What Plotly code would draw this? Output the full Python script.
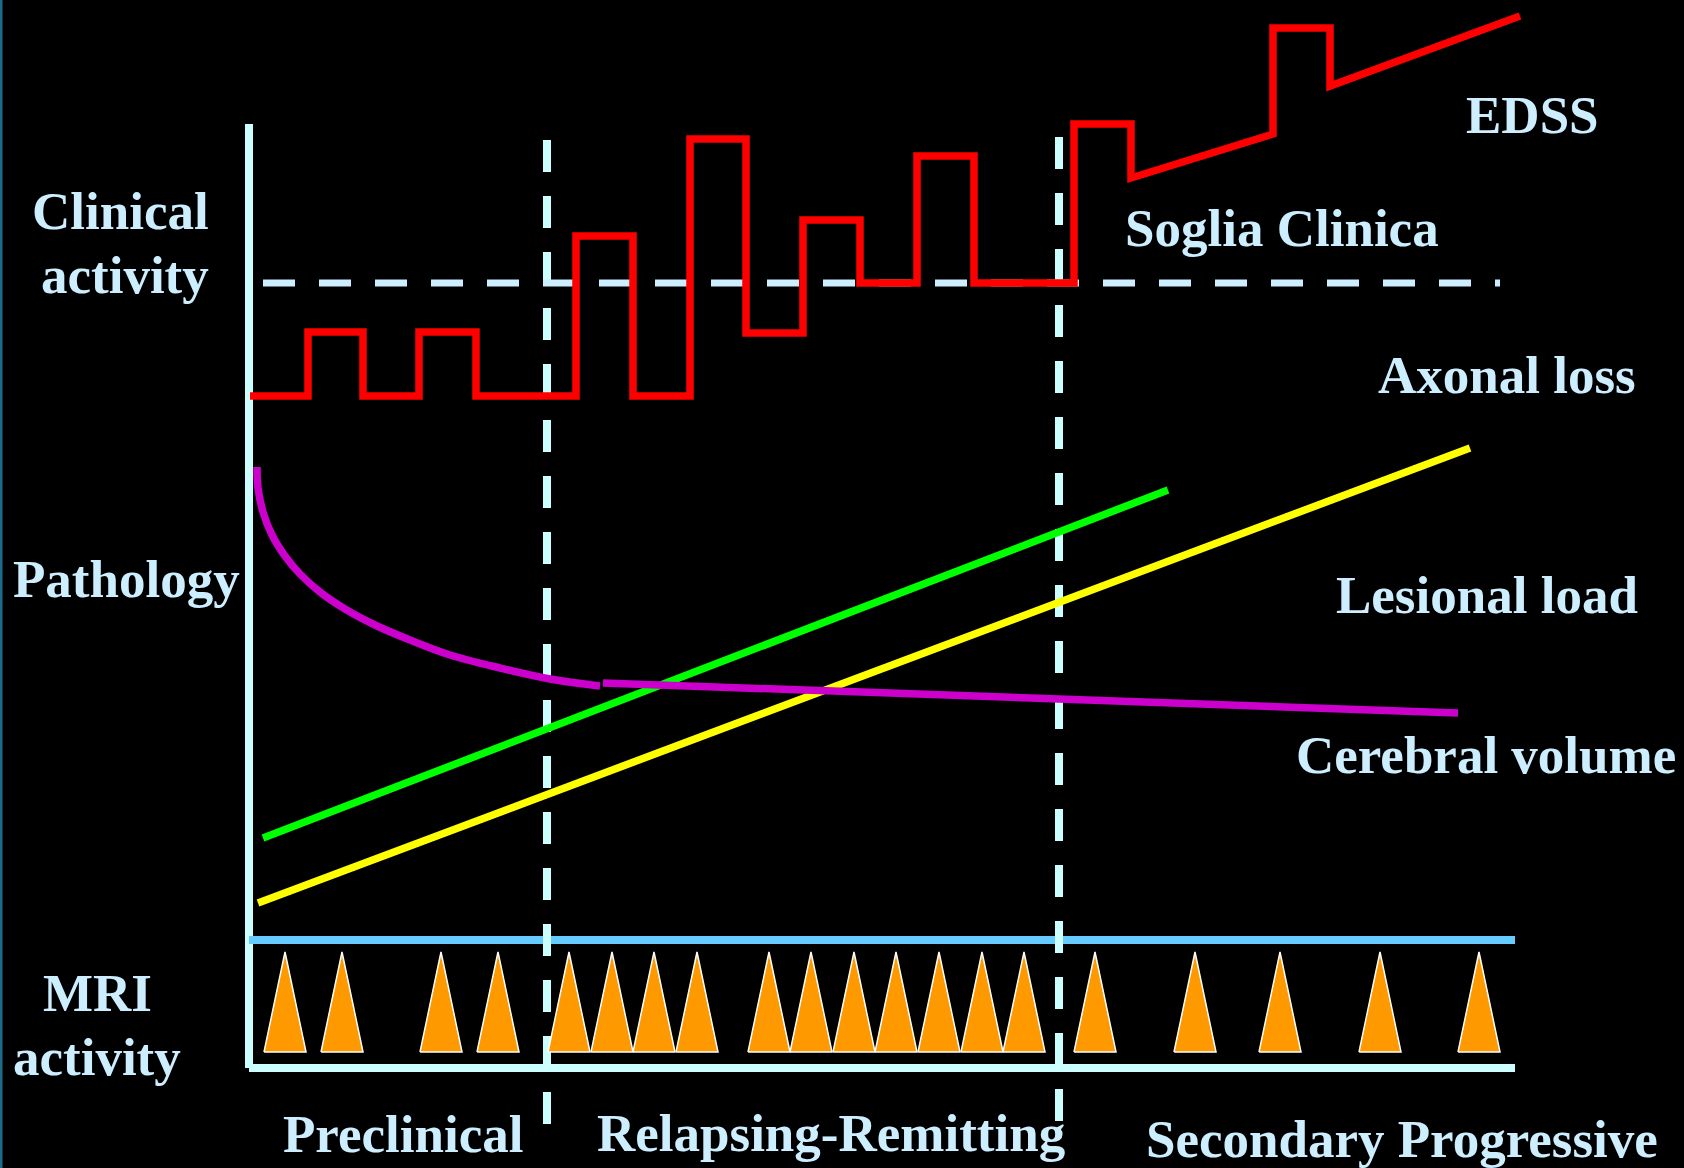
import plotly.graph_objects as go

# ---------------- data (chart units = picture pixels, y grows downward) ----------------
# EDSS / clinical activity (step line)
edss_x = [250, 308, 308, 363, 363, 419, 419, 476, 476, 576, 576, 633, 633, 690, 690,
          746, 746, 803, 803, 860, 860, 917, 917, 974, 974, 1074, 1074, 1131, 1131,
          1273, 1273, 1330, 1330, 1520]
edss_y = [396, 396, 332, 332, 396, 396, 332, 332, 396, 396, 236, 236, 396, 396, 139,
          139, 333, 333, 220, 220, 283, 283, 156, 156, 283, 283, 124, 124, 178,
          134, 28, 28, 86, 16]

# clinical threshold ("Soglia Clinica")
threshold_x = [263, 1500]
threshold_y = [283, 283]

# phase boundaries
phase_x = [547, 1059]
phase_top = [140, 137]
phase_bottom = [1124, 1121]

# pathology lines
axonal_x = [263, 1168]
axonal_y = [838, 490]
lesional_x = [258, 1470]
lesional_y = [903, 448]
volume_curve_x = [257, 258, 263, 272, 285, 300, 320, 345, 375, 410, 450, 500, 550, 600]
volume_curve_y = [467, 488, 512, 535, 556, 574, 592, 609, 625, 640, 655, 668, 679, 686]
volume_line_x = [603, 1458]
volume_line_y = [683, 713]

# MRI activity (lesion spikes)
mri_centers = [285, 342, 441, 498, 569, 612, 654, 697, 769, 811, 854, 896, 939,
               982, 1024, 1095, 1195, 1280, 1380, 1479]
mri_apex = 952
mri_base = 1052
mri_halfwidth = 21

# axes frame
axis_x = [249, 249, 1515]
axis_y = [124, 1068, 1068]
mri_line_x = [249, 1515]
mri_line_y = [940, 940]

# text labels
labels = ["Clinical", "activity", "Pathology", "MRI", "activity", "EDSS",
          "Soglia Clinica", "Axonal loss", "Lesional load", "Cerebral volume",
          "Preclinical", "Relapsing-Remitting", "Secondary Progressive"]
label_x = [120, 125, 126, 97, 97, 1532, 1282, 1507, 1487, 1486, 403, 831, 1402]
label_y = [211, 275, 579, 993, 1057, 115, 228, 375, 595, 755, 1134, 1133, 1139]

# ---------------- figure ----------------
TXT = "#CCEEFF"
AX = "#CCFFFF"

fig = go.Figure()

def line(x, y, color, width, dash=None, shape="linear"):
    fig.add_trace(go.Scatter(x=x, y=y, mode="lines",
                             line=dict(color=color, width=width, dash=dash, shape=shape),
                             hoverinfo="skip", showlegend=False))

# frame
line(axis_x[:2], axis_y[:2], AX, 8)
line(axis_x[1:], axis_y[1:], AX, 8)
line(mri_line_x, mri_line_y, "#66CCFF", 8)

# phase boundaries
for px, pt, pb in zip(phase_x, phase_top, phase_bottom):
    line([px, px], [pt, pb], AX, 8, "32px,24px")

# MRI spikes
tx, ty = [], []
for c in mri_centers:
    tx += [c - mri_halfwidth, c, c + mri_halfwidth, c - mri_halfwidth, None]
    ty += [mri_base, mri_apex, mri_base, mri_base, None]
fig.add_trace(go.Scatter(x=tx, y=ty, mode="lines", fill="toself",
                         fillcolor="#FF9900", line=dict(color="#FFFFFF", width=1.5),
                         hoverinfo="skip", showlegend=False))

# pathology
line(axonal_x, axonal_y, "#00FF00", 7.5)
line(lesional_x, lesional_y, "#FFFF00", 7.5)
line(volume_curve_x, volume_curve_y, "#CC00CC", 7.5, shape="spline")
line(volume_line_x, volume_line_y, "#CC00CC", 7.5)

# threshold + EDSS
line(threshold_x, threshold_y, TXT, 7, "32px,24px")
line(edss_x, edss_y, "#FF0000", 7.5)

for t, x, y in zip(labels, label_x, label_y):
    fig.add_annotation(x=x, y=y, text=t, showarrow=False, xanchor="center",
                       yanchor="middle",
                       font=dict(family="Liberation Serif", size=53, color=TXT,
                                 weight="bold"))

fig.update_layout(
    width=1684, height=1168,
    margin=dict(l=0, r=0, t=0, b=0),
    paper_bgcolor="#000000", plot_bgcolor="#000000",
    xaxis=dict(range=[0, 1684], visible=False, fixedrange=True),
    yaxis=dict(range=[1168, 0], visible=False, fixedrange=True),
    shapes=[dict(type="line", xref="paper", yref="paper", x0=0.0006, x1=0.0006,
                 y0=0, y1=1, line=dict(color="#1B6B8B", width=3))],
)

fig.write_html(
    "out.html",
    config={"displayModeBar": False},
    post_script="document.body.style.margin='0';document.body.style.background='#000';",
)
